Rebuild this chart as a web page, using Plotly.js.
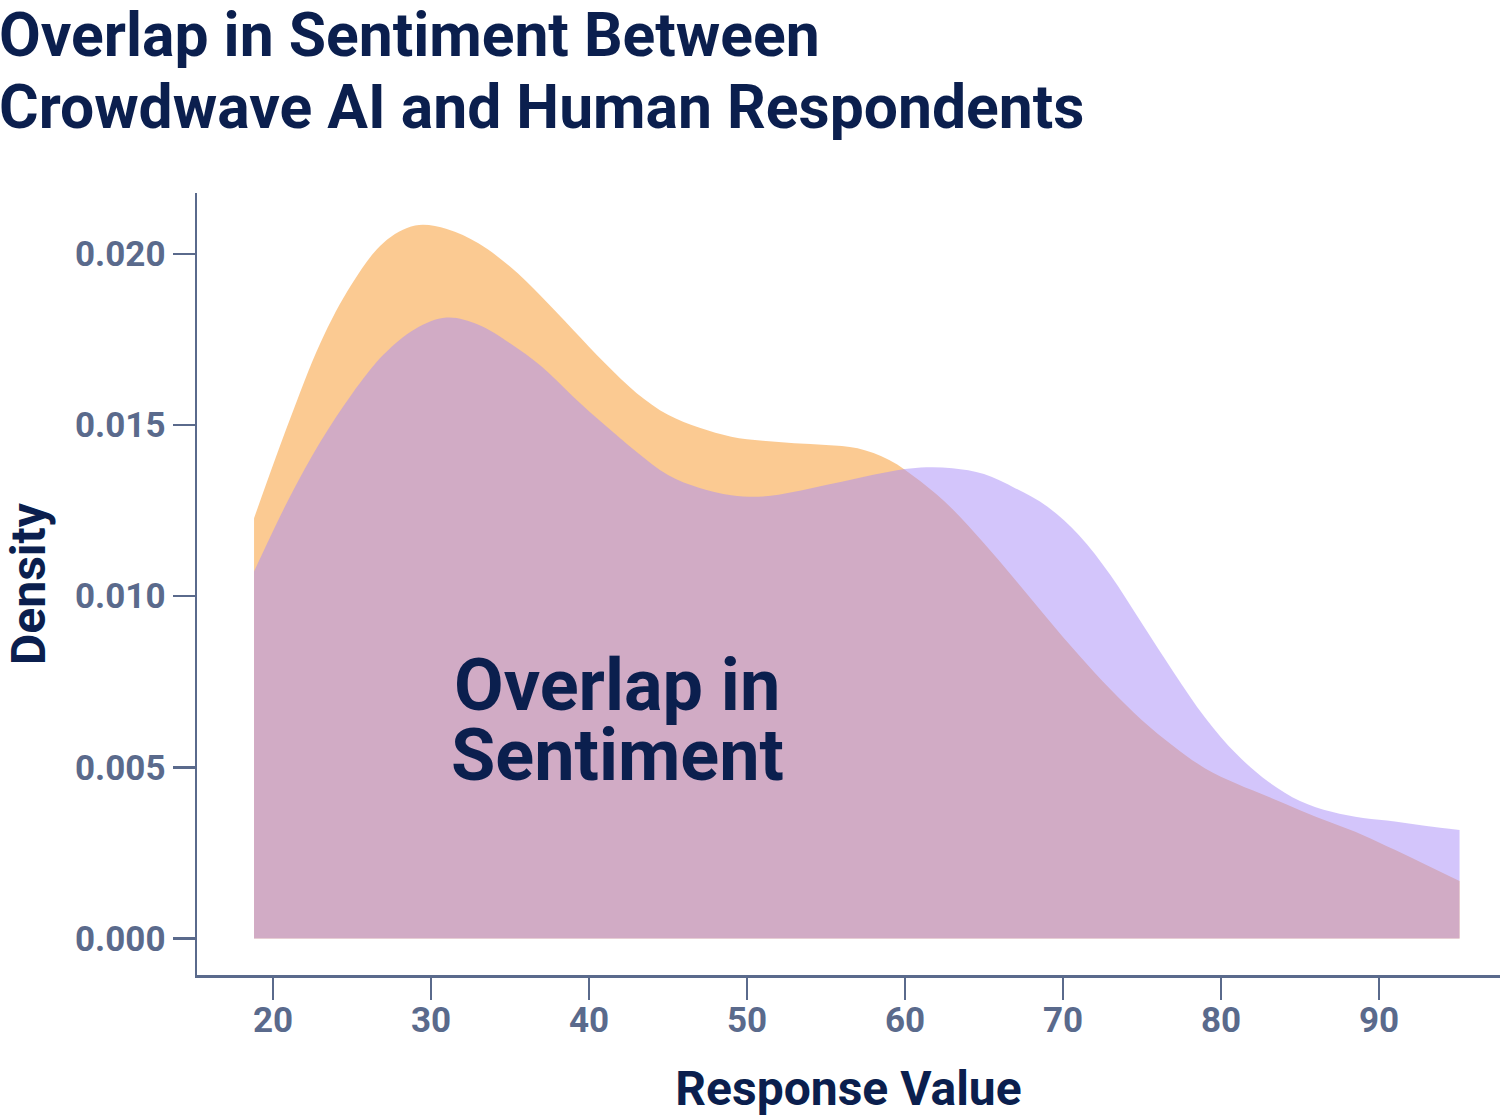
<!DOCTYPE html>
<html>
<head>
<meta charset="utf-8">
<script src="https://cdn.plot.ly/plotly-3.0.1.min.js"></script>
<style>
  html, body { margin: 0; padding: 0; background: #fff; }
  #graph { width: 1500px; height: 1117px; }
</style>
</head>
<body>
<div id="graph"></div>
<script>
// density curves, on a common response-value grid
var responseValues = [18.8, 21, 23, 25, 27, 29, 31, 33, 35, 37, 39, 41, 43, 45, 47, 49, 51, 53, 55, 57,
                      59, 61, 63, 65, 67, 69, 71, 73, 75, 77, 79, 81, 83, 85, 87, 89, 91, 93, 95.1];
var humanDensity = [0.01228, 0.01508, 0.0174, 0.01913, 0.02033, 0.02083, 0.02073, 0.02031, 0.01963, 0.01875,
                    0.01778, 0.01681, 0.01594, 0.0153, 0.01492, 0.01466, 0.01454, 0.01447, 0.01442, 0.01432,
                    0.01398, 0.01335, 0.01255, 0.01155, 0.01047, 0.00936, 0.00828, 0.00728, 0.00638, 0.00562,
                    0.00497, 0.00452, 0.00414, 0.00375, 0.00338, 0.00302, 0.00259, 0.00215, 0.00168];
var aiDensity = [0.01072, 0.01284, 0.01451, 0.01591, 0.01706, 0.01781, 0.01814, 0.01793, 0.01739, 0.01671,
                 0.01583, 0.015, 0.01422, 0.01354, 0.01316, 0.01295, 0.01291, 0.01305, 0.01325, 0.01345,
                 0.01364, 0.01376, 0.01374, 0.01357, 0.01315, 0.01262, 0.01179, 0.01062, 0.0092, 0.00778,
                 0.00645, 0.00538, 0.00458, 0.00402, 0.0037, 0.00352, 0.00342, 0.00329, 0.00317];

var xTicks = [20, 30, 40, 50, 60, 70, 80, 90];
var yTicks = [0, 0.005, 0.01, 0.015, 0.02];
var titleLines = ['Overlap in Sentiment Between', 'Crowdwave AI and Human Respondents'];
var overlapLines = ['Overlap in', 'Sentiment'];

var navy = '#0b1f4e';
var axisGrey = '#5a6a8c';

var human = {
  x: responseValues,
  y: humanDensity,
  type: 'scatter',
  mode: 'lines',
  name: 'Human Respondents',
  line: { shape: 'spline', smoothing: 1, width: 0 },
  fill: 'tozeroy',
  fillcolor: 'rgba(247,149,37,0.5)'
};

var ai = {
  x: responseValues,
  y: aiDensity,
  type: 'scatter',
  mode: 'lines',
  name: 'Crowdwave AI',
  line: { shape: 'spline', smoothing: 1, width: 0 },
  fill: 'tozeroy',
  fillcolor: 'rgba(167,139,247,0.5)'
};

// two-line title as separate annotations so the line spacing stays tight
var titleFont = { family: 'Roboto', size: 60.6, weight: 700, color: navy };
var bigFont = { family: 'Roboto', size: 72, weight: 700, color: navy };

var annotations = [
  { text: titleLines[0], xref: 'paper', yref: 'paper', x: -0.1535, y: 1.2014,
    xanchor: 'left', yanchor: 'middle', showarrow: false, font: titleFont },
  { text: titleLines[1], xref: 'paper', yref: 'paper', x: -0.1535, y: 1.1093,
    xanchor: 'left', yanchor: 'middle', showarrow: false, font: titleFont },
  { text: overlapLines[0], xref: 'x', yref: 'y', x: 41.8, y: 0.0074,
    xanchor: 'center', yanchor: 'middle', showarrow: false, font: bigFont },
  { text: overlapLines[1], xref: 'x', yref: 'y', x: 41.8, y: 0.00536,
    xanchor: 'center', yanchor: 'middle', showarrow: false, font: bigFont }
];

var layout = {
  width: 1500,
  height: 1117,
  margin: { l: 197, r: 0, t: 193, b: 142 },
  paper_bgcolor: '#fff',
  plot_bgcolor: '#fff',
  showlegend: false,
  font: { family: 'Roboto, sans-serif', color: navy },
  xaxis: {
    range: [15.19, 97.66],
    tickvals: xTicks,
    ticks: 'outside',
    ticklen: 22,
    tickwidth: 2.5,
    tickcolor: axisGrey,
    showline: true,
    linewidth: 2.5,
    linecolor: axisGrey,
    showgrid: false,
    zeroline: false,
    ticklabelstandoff: -10,
    tickfont: { family: 'Roboto', size: 35, weight: 700, color: axisGrey },
    title: {
      text: 'Response Value',
      font: { family: 'Roboto', size: 48, weight: 700, color: navy },
      standoff: 35
    }
  },
  yaxis: {
    range: [-0.001066, 0.02178],
    tickvals: yTicks,
    tickformat: '.3f',
    ticks: 'outside',
    ticklen: 22,
    tickwidth: 2.5,
    tickcolor: axisGrey,
    showline: true,
    linewidth: 2.5,
    linecolor: axisGrey,
    showgrid: false,
    zeroline: false,
    ticklabelstandoff: 0,
    tickfont: { family: 'Roboto', size: 35, weight: 700, color: axisGrey },
    title: {
      text: 'Density',
      font: { family: 'Roboto', size: 48, weight: 700, color: navy },
      standoff: 28
    }
  },
  annotations: annotations
};

Plotly.newPlot('graph', [human, ai], layout, { staticPlot: true });
</script>
</body>
</html>
